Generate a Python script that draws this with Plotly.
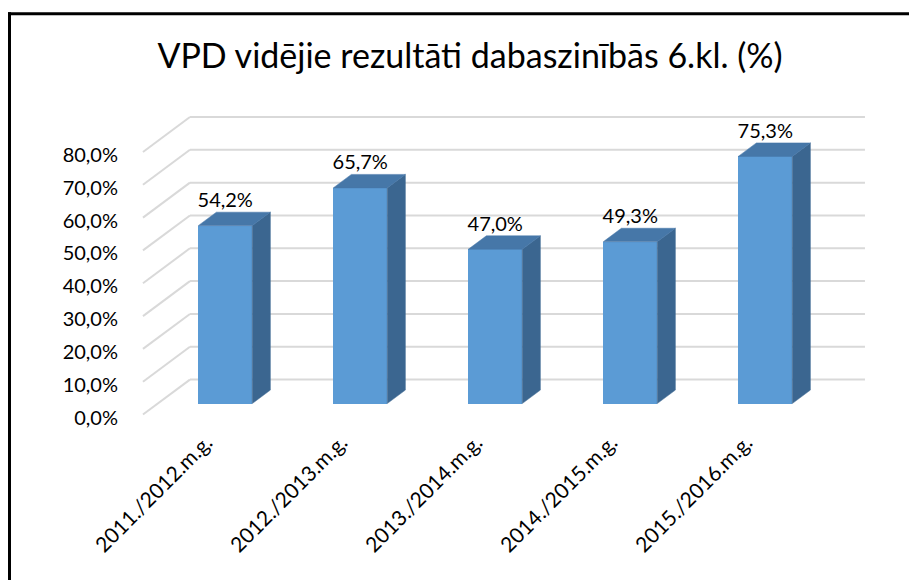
import plotly.graph_objects as go

# ---- data ----
categories = ["2011./2012.m.g.", "2012./2013.m.g.", "2013./2014.m.g.", "2014./2015.m.g.", "2015./2016.m.g."]
values = [54.2, 65.7, 47.0, 49.3, 75.3]
value_labels = ["54,2%", "65,7%", "47,0%", "49,3%", "75,3%"]
y_ticks = [0, 10, 20, 30, 40, 50, 60, 70, 80]
y_tick_labels = ["0,0%", "10,0%", "20,0%", "30,0%", "40,0%", "50,0%", "60,0%", "70,0%", "80,0%"]
title_text = "VPD vidējie rezultāti dabaszinībās 6.kl. (%)"

# ---- page / 3D oblique geometry ----
OFF = 8                      # default body margin of the html page
W, H = 917 - OFF, 580 - OFF
PX_PER_UNIT = 3.2875
Y_RANGE = [-12.0, 80.6]
X_RANGE = [-0.870, 4.515]
ML, MR, MT = 140 - OFF, 50, 115 - OFF
MB = H - MT - (Y_RANGE[1] - Y_RANGE[0]) * PX_PER_UNIT
DX, DY = 0.348, 10.65          # depth vector front->back (category units, % units)
F_FRONT, F_BACK = 0.686, 0.30  # bar faces' distance from back wall (fraction of depth)
BAR_W = 0.4

FRONT = "#5B9BD5"
SIDE = "#3B6690"
TOP = "#4677A8"
GRID = "#D9D9D9"
FONT = "Lato"

fig = go.Figure()

# gridlines (below the bars): slanted left-wall part + back-wall horizontal
n = len(categories)
for v in y_ticks:
    fig.add_shape(type="line", xref="x", yref="y", x0=-0.5 - DX, y0=v - DY, x1=-0.5, y1=v,
                  line=dict(color=GRID, width=2), layer="below")
    fig.add_shape(type="line", xref="x", yref="y", x0=-0.5, y0=v, x1=n - 0.5, y1=v,
                  line=dict(color=GRID, width=2), layer="below")

ox, oy = -F_FRONT * DX, -F_FRONT * DY
sx, sy = (F_FRONT - F_BACK) * DX, (F_FRONT - F_BACK) * DY
xc = [i + ox for i in range(n)]

# front faces
fig.add_trace(go.Bar(x=xc, y=values, base=[oy] * n, width=BAR_W,
                     marker=dict(color=FRONT, line=dict(width=0)),
                     hoverinfo="skip", showlegend=False))

# side and top faces
for i, v in enumerate(values):
    xl, xr = xc[i] - BAR_W / 2, xc[i] + BAR_W / 2
    b, t = oy, oy + v
    fig.add_trace(go.Scatter(x=[xr, xr, xr + sx, xr + sx, xr], y=[b, t, t + sy, b + sy, b],
                             fill="toself", fillcolor=SIDE, mode="lines",
                             line=dict(color=SIDE, width=0.5), hoverinfo="skip", showlegend=False))
    fig.add_trace(go.Scatter(x=[xl, xr, xr + sx, xl + sx, xl], y=[t, t, t + sy, t + sy, t],
                             fill="toself", fillcolor=TOP, mode="lines",
                             line=dict(color=TOP, width=0.5), hoverinfo="skip", showlegend=False))

# data labels
fig.add_trace(go.Scatter(x=xc, y=[oy + v + sy for v in values], mode="text",
                         text=value_labels, textposition="top center",
                         textfont=dict(family=FONT, size=20, color="#000000"),
                         hoverinfo="skip", showlegend=False, cliponaxis=False))

fig.update_layout(
    width=W, height=H,
    margin=dict(l=ML, r=MR, t=MT, b=MB, pad=0),
    paper_bgcolor="white", plot_bgcolor="white",
    bargap=0,
    title=dict(text=title_text, x=(470 - OFF) / W, xref="container", xanchor="center",
               y=1 - (56 - OFF) / H, yref="container", yanchor="middle",
               font=dict(family=FONT, size=34, color="#000000")),
    font=dict(family=FONT, color="#000000"),
    xaxis=dict(range=X_RANGE, tickmode="array", tickvals=[x - 0.14 for x in xc], ticktext=categories,
               tickangle=-45, showgrid=False, zeroline=False, showline=False,
               ticks="outside", ticklen=2, tickcolor="rgba(0,0,0,0)",
               tickfont=dict(family=FONT, size=21, color="#000000")),
    yaxis=dict(range=Y_RANGE, tickmode="array", tickvals=[v - DY - 0.9 for v in y_ticks],
               ticktext=y_tick_labels, showgrid=False, zeroline=False, showline=False,
               ticks="outside", ticklen=17, tickcolor="rgba(0,0,0,0)",
               tickfont=dict(family=FONT, size=20, color="#000000")),
)

# outer frame (top and left edges of the chart-area border), given in page pixels
pw, ph = W - ML - MR, H - MT - MB
def px_x(p):
    return (p - OFF - ML) / pw
def px_y(p):
    return (H - MB - (p - OFF)) / ph
fig.add_shape(type="line", xref="paper", yref="paper", x0=px_x(8), x1=px_x(920),
              y0=px_y(13.5), y1=px_y(13.5), line=dict(color="black", width=3))
fig.add_shape(type="line", xref="paper", yref="paper", x0=px_x(9.5), x1=px_x(9.5),
              y0=px_y(12), y1=px_y(585), line=dict(color="black", width=3))

fig.write_html("out.html")
